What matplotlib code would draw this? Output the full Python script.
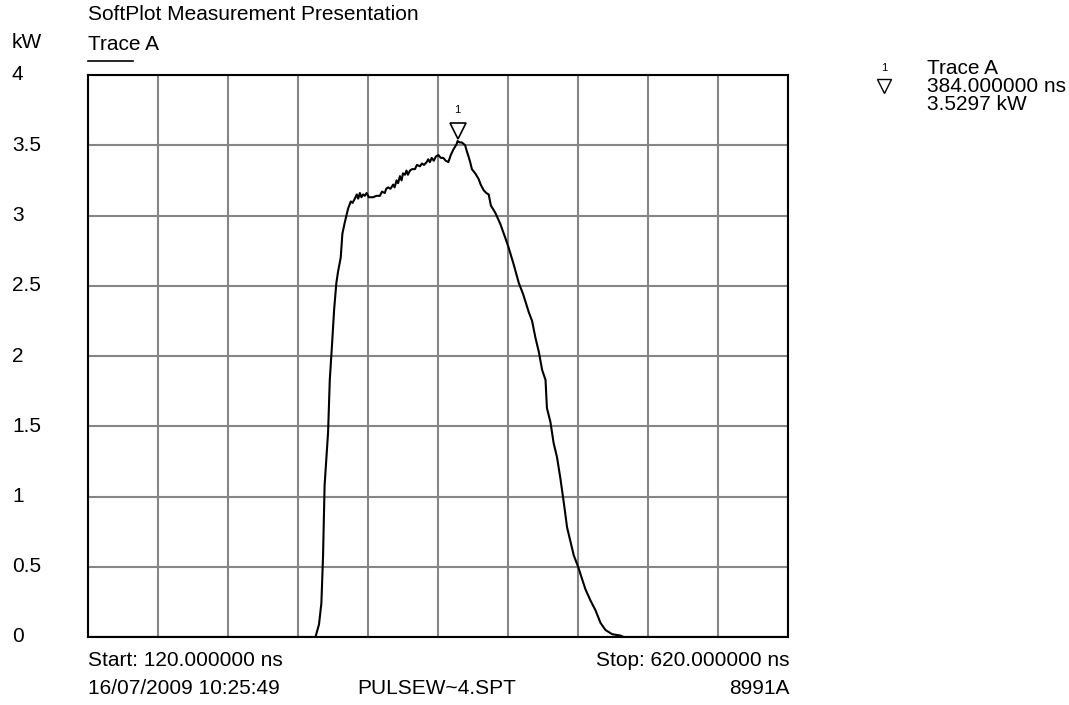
import matplotlib
matplotlib.use("Agg")
import matplotlib.pyplot as plt
import matplotlib.transforms as mtransforms

plt.rcParams['font.family'] = ['Liberation Sans', 'DejaVu Sans']

# trace A (ns, kW)
time_ns = [120, 282.5, 285, 286.7, 287.9, 289, 291.5, 292.7, 294.3, 295.8, 297.4,
           298.6, 300.5, 301.7, 303.4, 305.8, 307.7, 309, 310.6, 312, 313, 314.2,
           315.3, 316.5, 317.7, 319, 320.6, 323.7, 326, 328.5, 330, 332, 333,
           334.4, 336, 338, 339, 340.4, 341.5, 342.8, 344, 345, 346.4, 347.5,
           348.5, 350, 351.5, 353.5, 355, 357.1, 358.5, 360, 361.9, 363, 364.2,
           365.5, 367, 368.5, 370.3, 372, 373.8, 375.5, 377.4, 379.1, 381, 383.4,
           384, 385.5, 387, 389.4, 390.5, 391.8, 393, 394.2, 396.6, 399, 400.5,
           402.6, 404.5, 406.2, 407.8, 410.9, 414.5, 418.1, 420.5, 424.1, 427.7,
           430.8, 434.9, 437.2, 439.6, 442, 444.4, 446.8, 447.8, 450.3, 452.6,
           455, 457.4, 459.8, 462.2, 464.6, 467, 470.1, 473, 475.3, 478.9, 482.5,
           486.1, 489.6, 494.4, 500.3, 502.7, 620]
power_kw = [0, 0, 0.09, 0.24, 0.58, 1.08, 1.46, 1.83, 2.08, 2.33, 2.52,
            2.60, 2.70, 2.87, 2.95, 3.05, 3.10, 3.09, 3.12, 3.15, 3.12, 3.16,
            3.13, 3.15, 3.14, 3.16, 3.13, 3.13, 3.14, 3.14, 3.17, 3.16, 3.19,
            3.20, 3.19, 3.22, 3.20, 3.25, 3.23, 3.28, 3.25, 3.30, 3.29, 3.32,
            3.29, 3.32, 3.33, 3.33, 3.36, 3.35, 3.37, 3.36, 3.38, 3.40, 3.38,
            3.41, 3.39, 3.42, 3.43, 3.41, 3.41, 3.39, 3.38, 3.43, 3.47, 3.51,
            3.53, 3.52, 3.52, 3.50, 3.46, 3.42, 3.38, 3.33, 3.30, 3.26, 3.22,
            3.18, 3.16, 3.15, 3.07, 3.02, 2.94, 2.84, 2.77, 2.65, 2.52,
            2.44, 2.31, 2.25, 2.13, 2.03, 1.90, 1.83, 1.63, 1.53, 1.38,
            1.28, 1.13, 0.96, 0.78, 0.68, 0.58, 0.50, 0.41, 0.34, 0.26, 0.19,
            0.10, 0.05, 0.02, 0.01, 0, 0]

marker_ns = 384.0
marker_kw = 3.5297
y_ticks = [0, 0.5, 1, 1.5, 2, 2.5, 3, 3.5, 4]
y_labels = ['0', '0.5', '1', '1.5', '2', '2.5', '3', '3.5', '4']
x_start, x_stop = 120, 620

W, H = 1069, 705
FS = 15
fig = plt.figure(figsize=(W / 100, H / 100), dpi=100)
left, right, top, bottom = 88, 788, 75, 637
ax = fig.add_axes([left / W, 1 - bottom / H, (right - left) / W, (bottom - top) / H])

ax.set_xlim(x_start, x_stop)
ax.set_ylim(0, 4)
ax.set_xticks([x_start + 50 * i for i in range(11)])
ax.set_yticks(y_ticks)
ax.grid(True, color='#858585', linewidth=1.5)
ax.tick_params(length=0, labelbottom=False, labelleft=False)
for s in ax.spines.values():
    s.set_color('black')
    s.set_linewidth(1.5)

ax.plot(time_ns, power_kw, color='black', linewidth=1.5, zorder=3)

# marker 1: open triangle pointing down, tip on the peak
off = mtransforms.offset_copy(ax.transData, fig=fig, x=0, y=7.5, units='points')
ax.plot([marker_ns], [marker_kw], marker='v', markersize=11, markerfacecolor='white',
        markeredgecolor='black', markeredgewidth=1.2, transform=off, zorder=4,
        clip_on=False)
off2 = mtransforms.offset_copy(ax.transData, fig=fig, x=0, y=19, units='points')
ax.text(marker_ns, marker_kw, '1', fontsize=8, ha='center', va='bottom',
        transform=off2)

# y labels, left aligned at the figure edge
ylab_tr = mtransforms.blended_transform_factory(fig.transFigure, ax.transData)
for v, lab in zip(y_ticks, y_labels):
    ax.text(12 / W, v, lab, fontsize=FS, ha='left', va='center',
            transform=ylab_tr, clip_on=False)


def ftext(x, y, s, size=FS, **kw):
    fig.text(x / W, 1 - y / H, s, fontsize=size, va='center', **kw)


ftext(88, 14, 'SoftPlot Measurement Presentation')
ftext(12, 43, 'kW')
ftext(88, 44, 'Trace A')
fig.add_artist(plt.Line2D([88 / W, 133 / W], [1 - 61 / H, 1 - 61 / H],
                          color='black', linewidth=1.2))

ftext(88, 661, 'Start: %.6f ns' % x_start)
ftext(789, 661, 'Stop: %.6f ns' % x_stop, ha='right')
ftext(88, 689, '16/07/2009 10:25:49')
ftext(357, 689, 'PULSEW~4.SPT')
ftext(789, 689, '8991A', ha='right')

# marker readout on the right
ftext(884, 68, '1', size=8, ha='center')
fig.add_artist(plt.Line2D([884 / W], [1 - 86 / H], marker='v', markersize=10,
                          markerfacecolor='white', markeredgecolor='black',
                          markeredgewidth=1.0))
ftext(927, 68, 'Trace A')
ftext(927, 86, '%.6f ns' % marker_ns)
ftext(927, 104, '%.4f kW' % marker_kw)

fig.savefig('out.png', dpi=100)
